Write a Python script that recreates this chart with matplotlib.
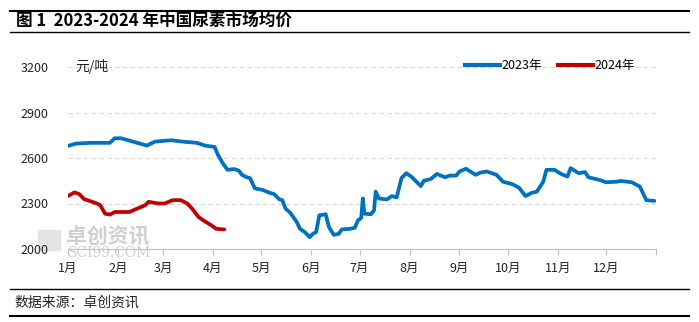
import numpy as np
import matplotlib
matplotlib.use("Agg")
import matplotlib.pyplot as plt
from matplotlib.lines import Line2D

plt.rcParams['font.family'] = ['Noto Sans CJK SC', 'DejaVu Sans']

# 2023 daily urea price (yuan/ton), key points
dates_2023 = ['2023-01-01', '2023-01-06', '2023-01-15', '2023-01-27', '2023-01-30', '2023-02-03',
              '2023-02-08', '2023-02-13', '2023-02-19', '2023-02-24', '2023-03-06', '2023-03-14',
              '2023-03-22', '2023-03-27', '2023-04-02', '2023-04-04', '2023-04-07', '2023-04-10',
              '2023-04-14', '2023-04-17', '2023-04-19', '2023-04-22', '2023-04-24', '2023-04-27',
              '2023-05-02', '2023-05-06', '2023-05-09', '2023-05-12', '2023-05-14', '2023-05-16',
              '2023-05-19', '2023-05-23', '2023-05-25', '2023-05-28', '2023-05-31', '2023-06-02',
              '2023-06-04', '2023-06-06', '2023-06-10', '2023-06-12', '2023-06-15', '2023-06-18',
              '2023-06-20', '2023-06-25', '2023-06-28', '2023-06-30', '2023-07-02', '2023-07-03',
              '2023-07-04', '2023-07-08', '2023-07-10', '2023-07-11', '2023-07-13', '2023-07-18',
              '2023-07-21', '2023-07-24', '2023-07-27', '2023-07-30', '2023-08-02', '2023-08-08',
              '2023-08-10', '2023-08-14', '2023-08-18', '2023-08-23', '2023-08-26', '2023-08-30',
              '2023-09-01', '2023-09-05', '2023-09-11', '2023-09-14', '2023-09-18', '2023-09-24',
              '2023-09-28', '2023-10-04', '2023-10-08', '2023-10-12', '2023-10-16', '2023-10-19',
              '2023-10-21', '2023-10-23', '2023-10-25', '2023-10-30', '2023-11-03', '2023-11-07',
              '2023-11-09', '2023-11-14', '2023-11-18', '2023-11-20', '2023-11-27', '2023-12-01',
              '2023-12-08', '2023-12-10', '2023-12-17', '2023-12-22', '2023-12-26', '2023-12-31']
price_2023 = [2680, 2695, 2700, 2700, 2730, 2730,
              2715, 2700, 2682, 2708, 2717, 2707,
              2700, 2682, 2673, 2622, 2567, 2522,
              2527, 2517, 2489, 2473, 2467, 2400,
              2389, 2371, 2362, 2329, 2322, 2267,
              2238, 2178, 2133, 2111, 2078, 2100,
              2111, 2222, 2229, 2144, 2093, 2100,
              2129, 2133, 2140, 2189, 2204, 2333,
              2233, 2229, 2255, 2378, 2333, 2327,
              2349, 2340, 2467, 2500, 2478, 2415,
              2451, 2460, 2495, 2473, 2484, 2484,
              2511, 2529, 2489, 2504, 2511, 2489,
              2444, 2427, 2404, 2349, 2371, 2378,
              2410, 2444, 2522, 2522, 2495, 2478,
              2533, 2500, 2507, 2473, 2455, 2440,
              2444, 2449, 2440, 2411, 2322, 2317]

dates_2024 = ['2024-01-01', '2024-01-05', '2024-01-08', '2024-01-11', '2024-01-16', '2024-01-19',
              '2024-01-21', '2024-01-24', '2024-01-27', '2024-01-30', '2024-02-08', '2024-02-14',
              '2024-02-18', '2024-02-20', '2024-02-26', '2024-03-01', '2024-03-06', '2024-03-11',
              '2024-03-15', '2024-03-18', '2024-03-22', '2024-03-26', '2024-03-30', '2024-04-02',
              '2024-04-07']
price_2024 = [2349, 2373, 2362, 2329, 2311, 2300,
              2289, 2233, 2227, 2244, 2244, 2271,
              2289, 2311, 2300, 2300, 2322, 2322,
              2300, 2267, 2211, 2182, 2156, 2133,
              2129]

month_labels = ['1月', '2月', '3月', '4月', '5月', '6月', '7月', '8月', '9月', '10月', '11月', '12月']
y_ticks = [2000, 2300, 2600, 2900, 3200]


def day_of_year(dates, year):
    d = np.array(dates, dtype='datetime64[D]')
    return (d - np.datetime64('%d-01-01' % year)).astype(int)


x23 = day_of_year(dates_2023, 2023)
x24 = day_of_year(dates_2024, 2024)
month_starts = (np.arange('2023-01', '2024-02', dtype='datetime64[M]').astype('datetime64[D]')
                - np.datetime64('2023-01-01')).astype(int)

fig = plt.figure(figsize=(6.99, 3.22), dpi=100)
ax = fig.add_axes([68 / 699, 1 - 249 / 322, 588 / 699, 182 / 322])
ax.patch.set_alpha(0)

blue = '#0070C0'
red = '#C00000'
ax.plot(x23, price_2023, color=blue, lw=2.7, solid_joinstyle='round', solid_capstyle='round', zorder=3)
ax.plot(x24, price_2024, color=red, lw=2.7, solid_joinstyle='round', solid_capstyle='round', zorder=3)

ax.set_xlim(0, 365)
ax.set_ylim(2000, 3200)
ax.set_yticks(y_ticks)
ax.set_yticklabels([str(v) for v in y_ticks], fontsize=9, color='#222222')
for v in y_ticks[1:]:
    ax.axhline(v, color='#D9D9D9', lw=0.8, ls=(0, (4, 3)), zorder=1)

# month labels sit on the month-start ticks; the year-end tick has no label
ax.set_xticks(month_starts[:-1])
ax.set_xticklabels(month_labels, fontsize=9, color='#222222')
ax.set_xticks(month_starts[-1:], minor=True)
ax.tick_params(axis='x', which='both', length=4, color='#BFBFBF', width=0.8, pad=5)
ax.tick_params(axis='y', length=0, pad=14)

for s in ['top', 'right', 'left']:
    ax.spines[s].set_visible(False)
ax.spines['bottom'].set_color('#BFBFBF')
ax.spines['bottom'].set_linewidth(0.8)

# unit and legend on the top row
fig.text(75 / 699, 1 - 67 / 322, '元/吨', fontsize=10, va='center', ha='left', color='#222222')
handles = [Line2D([], [], color=blue, lw=3), Line2D([], [], color=red, lw=3)]
fig.legend(handles, ['2023年', '2024年'], loc='center', bbox_to_anchor=(550 / 699, 1 - 66 / 322),
           ncol=2, frameon=False, fontsize=9, handlelength=2.8, handletextpad=0.1,
           columnspacing=1.3)

# watermark behind the axes
fig.patches.append(plt.Rectangle((38 / 699, 1 - 250 / 322), 22 / 699, 20 / 322,
                                 transform=fig.transFigure, color='#E3E3E3', zorder=-2))
fig.text(66 / 699, 1 - 237 / 322, '卓创资讯', fontsize=15, color='#D0D0D0',
         va='center', ha='left', fontweight='bold', zorder=-2)
fig.text(68 / 699, 1 - 253 / 322, 'SCI99.COM', fontsize=10, color='#D0D0D0',
         va='center', ha='left', family='DejaVu Serif', zorder=-2)

# title and footer rules
fig.add_artist(Line2D([0.015, 0.985], [1 - 11 / 322] * 2, color='black', lw=1.5, transform=fig.transFigure))
fig.add_artist(Line2D([0.015, 0.985], [1 - 32 / 322] * 2, color='black', lw=1.0, transform=fig.transFigure))
fig.add_artist(Line2D([0.015, 0.985], [1 - 289 / 322] * 2, color='black', lw=1.0, transform=fig.transFigure))
fig.add_artist(Line2D([0.015, 0.985], [1 - 316 / 322] * 2, color='black', lw=1.5, transform=fig.transFigure))
fig.text(16 / 699, 1 - 21 / 322, '图 1  2023-2024 年中国尿素市场均价', fontsize=12, fontweight='bold',
         va='center', ha='left')
fig.text(14 / 699, 1 - 303 / 322, '数据来源：卓创资讯', fontsize=10, va='center', ha='left', color='#222222')

fig.savefig('out.png', dpi=100)
